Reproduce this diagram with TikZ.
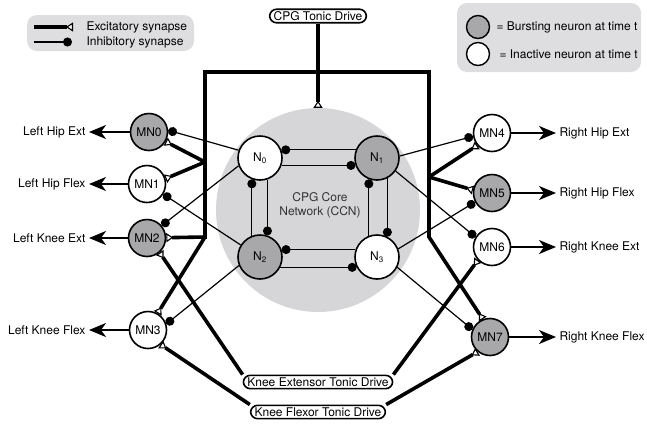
\documentclass[tikz,border=0pt]{standalone}
\usepackage{fontspec}
\setmainfont{TeX Gyre Heros}
\usetikzlibrary{arrows.meta}

\definecolor{grisneurona}{RGB}{168,168,170}
\definecolor{grisred}{RGB}{214,214,216}
\definecolor{grisleyenda}{RGB}{222,222,224}

\begin{document}
\begin{tikzpicture}[x=1pt,y=-1pt,
    font=\fontsize{12}{14}\selectfont,
    tri/.tip={Triangle[reversed,fill=white,length=7pt,width=9pt,line width=1.1pt]},
    neurona/.style={circle,draw,line width=1.6pt,fill=white,minimum size=37pt,inner sep=0pt},
    activa/.style={neurona,fill=grisneurona},
    nucleo/.style={minimum size=44pt},
    impulso/.style={draw,line width=1.6pt,rounded corners=7pt,fill=white,inner xsep=4pt,inner ysep=2.2pt},
    exc/.style={line width=3.6pt,-tri},
    inh/.style={line width=1.2pt,-{Circle[length=9pt]}},
    mov/.style={line width=1.9pt,-{Stealth[length=17pt,width=14pt,inset=5pt]}},
    leyenda/.style={fill=grisleyenda,rounded corners=10pt}]
    \useasboundingbox (0,0) rectangle (647,424);

    % Leyendas
    \fill[leyenda] (27,15) rectangle (194,51);
    \coordinate (e0) at (34,27);
    \coordinate (e1) at (73,27);
    \coordinate (i0) at (34,42);
    \coordinate (i1) at (72,42);
    \draw[exc] (e0) -- (e1);
    \draw[inh] (i0) -- (i1);
    \node[anchor=west] (etxt) at (83,27) {Excitatory synapse};
    \node[anchor=west] (itxt) at (83,42) {Inhibitory synapse};

    \fill[leyenda] (457,3) rectangle (641,72);
    \node[activa,minimum size=23pt,line width=1.4pt] (lb) at (478,27) {};
    \node[neurona,minimum size=23pt,line width=1.4pt] (li) at (478,54) {};
    \node[anchor=west] (lbtxt) at (493,27) {= Bursting neuron at time t};
    \node[anchor=west] (litxt) at (496,54) {= Inactive neuron at time t};

    % Red central
    \node[circle,fill=grisred,minimum size=204pt,inner sep=0pt] (ccn) at (318,210) {};
    \node[align=center,text=black!80] (ccntxt) at (320,205) {CPG Core\\Network (CCN)};
    \node[neurona,nucleo] (n0) at (260,158) {N\textsubscript{0}};
    \node[activa,nucleo] (n1) at (377,158) {N\textsubscript{1}};
    \node[activa,nucleo] (n2) at (260,257) {N\textsubscript{2}};
    \node[neurona,nucleo] (n3) at (377,257) {N\textsubscript{3}};

    \draw[inh] (n1.159) -- (n0.21);
    \draw[inh] (n0.-19) -- (n1.199);
    \draw[inh] (n2.111) -- (n0.249);
    \draw[inh] (n0.289) -- (n2.71);
    \draw[inh] (n3.111) -- (n1.249);
    \draw[inh] (n1.297) -- (n3.63);
    \draw[inh] (n3.161) -- (n2.19);
    \draw[inh] (n2.-27) -- (n3.207);

    % Motoneuronas
    \node[activa] (mn0) at (149,132) {MN0};
    \node[neurona] (mn1) at (147,184) {MN1};
    \node[activa] (mn2) at (147,238) {MN2};
    \node[neurona] (mn3) at (148,330) {MN3};
    \node[neurona] (mn4) at (492,133) {MN4};
    \node[activa] (mn5) at (492,193) {MN5};
    \node[neurona] (mn6) at (492,247) {MN6};
    \node[activa] (mn7) at (490,337) {MN7};

    \draw[inh] (n0.160) -- (mn0.5);
    \draw[inh] (n0.200) -- (mn2.40);
    \draw[inh] (n2.148) -- (mn1.-32);
    \draw[inh] (n2.202) -- (mn3.18);
    \draw[inh] (n1.5) -- (mn4.190);
    \draw[inh] (n1.-35) -- (mn6.149);
    \draw[inh] (n3.21) -- (mn5.208);
    \draw[inh] (n3.-27) -- (mn7.157);

    % Impulsos tonicos
    \node[impulso] (cpg) at (318,16) {CPG Tonic Drive};
    \node[impulso] (kext) at (318,382) {Knee Extensor Tonic Drive};
    \node[impulso] (kflx) at (318,412) {Knee Flexor Tonic Drive};

    \coordinate (tl) at (205,72);
    \coordinate (tr) at (429,72);
    \coordinate (bl) at (205,237);
    \coordinate (br) at (429,237);
    \coordinate (hl) at (205,162);
    \coordinate (hr) at (429,177);

    \draw[exc] (cpg) -- (ccn);
    \draw[line width=3.6pt,tri-tri] (mn2) -- (bl) -- (tl) -- (tr) -- (br) -- (mn7.112);
    \draw[exc] (hl) -- (mn0.-30);
    \draw[exc] (hl) -- (mn1.16);
    \draw[exc] (bl) -- (mn3.60);
    \draw[exc] (hr) -- (mn4.220);
    \draw[exc] (hr) -- (mn5.171);
    \draw[exc] (kext.north west) -- (mn2.-49);
    \draw[exc] (kext.north east) -- (mn6.223);
    \draw[exc] (kflx.north west) -- (mn3.-49);
    \draw[exc] (kflx.north east) -- (mn7.230);

    % Salidas motoras
    \node[anchor=east] (s0) at (89,132) {Left Hip Ext};
    \node[anchor=east] (s1) at (89,184) {Left Hip Flex};
    \node[anchor=east] (s2) at (89,238) {Left Knee Ext};
    \node[anchor=east] (s3) at (89,330) {Left Knee Flex};
    \node[anchor=west] (s4) at (556,133) {Right Hip Ext};
    \node[anchor=west] (s5) at (556,193) {Right Hip Flex};
    \node[anchor=west] (s6) at (556,247) {Right Knee Ext};
    \node[anchor=west] (s7) at (556,337) {Right Knee Flex};

    \foreach \i in {0,...,7}
      \draw[mov] (mn\i) -- (s\i);
\end{tikzpicture}
\end{document}
